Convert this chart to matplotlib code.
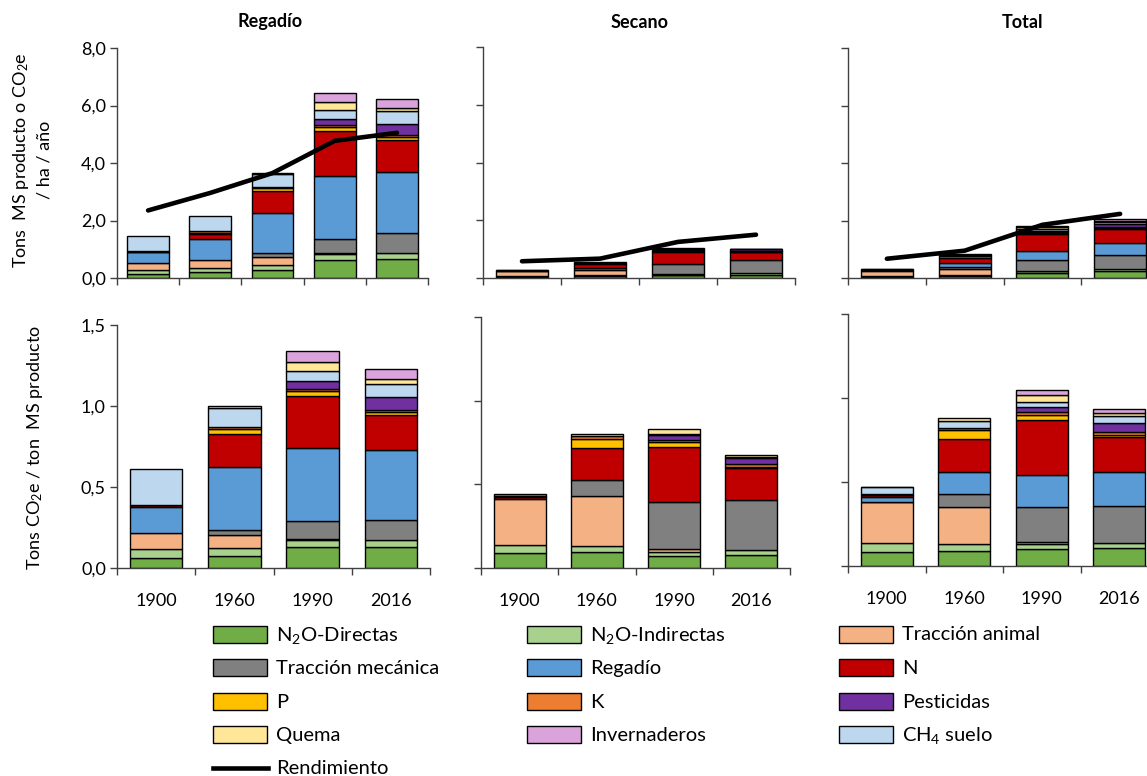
import numpy as np
import matplotlib
matplotlib.use('Agg')
import matplotlib.pyplot as plt
from matplotlib.patches import Rectangle
from matplotlib.lines import Line2D
from matplotlib.ticker import FuncFormatter

plt.rcParams['font.family'] = ['Lato', 'DejaVu Sans']
plt.rcParams['mathtext.default'] = 'regular'

# componentes en orden de apilado (de abajo a arriba)
componentes = ['N$_2$O-Directas', 'N$_2$O-Indirectas', 'Tracción animal', 'Tracción mecánica',
               'Regadío', 'N', 'P', 'K', 'Pesticidas', 'CH$_4$ suelo', 'Quema', 'Invernaderos']
colores = ['#70AD47', '#A9D18E', '#F4B183', '#808080', '#5B9BD5', '#C00000',
           '#FFC000', '#ED7D31', '#7030A0', '#BDD7EE', '#FFE699', '#DBA3DB']

anios = ['1900', '1960', '1990', '2016']
anios_reg_sup = ['1900', '', '1960', '1990', '2016']  # la fila superior de regadio tiene una barra mas

# fila superior: Tons MS producto o CO2e / ha / año  (cada fila = un año, columnas = componentes)
reg_sup = [
    [0.14, 0.13, 0.25, 0.00, 0.38, 0.02, 0.005, 0.005, 0.00, 0.53, 0.00, 0.00],
    [0.20, 0.14, 0.30, 0.00, 0.71, 0.18, 0.02, 0.10, 0.00, 0.49, 0.00, 0.00],
    [0.28, 0.16, 0.30, 0.12, 1.41, 0.74, 0.13, 0.04, 0.00, 0.43, 0.05, 0.00],
    [0.64, 0.20, 0.02, 0.50, 2.20, 1.55, 0.13, 0.07, 0.22, 0.32, 0.27, 0.31],
    [0.66, 0.21, 0.00, 0.68, 2.15, 1.10, 0.09, 0.07, 0.38, 0.46, 0.13, 0.31],
]
sec_sup = [
    [0.05, 0.03, 0.16, 0.00, 0.00, 0.01, 0.01, 0.03, 0.00, 0.00, 0.00, 0.00],
    [0.06, 0.03, 0.20, 0.06, 0.00, 0.13, 0.04, 0.01, 0.003, 0.00, 0.02, 0.00],
    [0.09, 0.03, 0.02, 0.35, 0.00, 0.41, 0.04, 0.02, 0.04, 0.005, 0.03, 0.00],
    [0.12, 0.04, 0.00, 0.45, 0.00, 0.29, 0.01, 0.03, 0.05, 0.01, 0.01, 0.00],
]
tot_sup = [
    [0.04, 0.03, 0.19, 0.00, 0.01, 0.01, 0.003, 0.003, 0.00, 0.03, 0.003, 0.00],
    [0.08, 0.04, 0.20, 0.07, 0.13, 0.18, 0.05, 0.01, 0.00, 0.04, 0.02, 0.00],
    [0.18, 0.05, 0.02, 0.37, 0.33, 0.57, 0.05, 0.03, 0.05, 0.05, 0.07, 0.05],
    [0.23, 0.08, 0.00, 0.49, 0.43, 0.46, 0.04, 0.04, 0.11, 0.08, 0.04, 0.05],
]
rend_reg = [2.35, 2.96, 3.65, 4.77, 5.05]
rend_sec = [0.58, 0.67, 1.25, 1.50]
rend_tot = [0.67, 0.95, 1.85, 2.23]

# fila inferior: Tons CO2e / ton MS producto
reg_inf = [
    [0.062, 0.055, 0.099, 0.000, 0.160, 0.010, 0.002, 0.002, 0.000, 0.222, 0.000, 0.000],
    [0.076, 0.045, 0.083, 0.033, 0.386, 0.202, 0.035, 0.010, 0.000, 0.118, 0.014, 0.000],
    [0.130, 0.045, 0.004, 0.109, 0.453, 0.319, 0.030, 0.015, 0.047, 0.066, 0.054, 0.065],
    [0.130, 0.041, 0.000, 0.127, 0.432, 0.212, 0.019, 0.016, 0.076, 0.085, 0.029, 0.061],
]
sec_inf = [
    [0.088, 0.051, 0.275, 0.000, 0.000, 0.010, 0.008, 0.010, 0.000, 0.000, 0.000, 0.000],
    [0.094, 0.039, 0.299, 0.096, 0.000, 0.190, 0.055, 0.014, 0.000, 0.000, 0.016, 0.000],
    [0.074, 0.020, 0.020, 0.278, 0.000, 0.331, 0.028, 0.016, 0.030, 0.005, 0.029, 0.000],
    [0.080, 0.026, 0.000, 0.298, 0.000, 0.194, 0.008, 0.018, 0.033, 0.008, 0.008, 0.000],
]
tot_inf = [
    [0.082, 0.053, 0.243, 0.004, 0.028, 0.012, 0.003, 0.003, 0.000, 0.041, 0.004, 0.000],
    [0.089, 0.042, 0.223, 0.075, 0.132, 0.196, 0.052, 0.012, 0.002, 0.040, 0.016, 0.000],
    [0.101, 0.028, 0.012, 0.209, 0.191, 0.328, 0.030, 0.016, 0.031, 0.030, 0.042, 0.028],
    [0.105, 0.034, 0.000, 0.221, 0.199, 0.206, 0.017, 0.017, 0.052, 0.040, 0.020, 0.025],
]

W, H = 1147, 776
fig = plt.figure(figsize=(W / 100, H / 100), dpi=100)


def rect(x0, y0, x1, y1):
    return [x0 / W, 1 - y1 / H, (x1 - x0) / W, (y1 - y0) / H]


coma = FuncFormatter(lambda v, p: f"{v:.1f}".replace('.', ','))


def panel(pos, datos, cats, ymax, yticks, rend=None, ylabels=True, xlabels=True):
    ax = fig.add_axes(pos)
    datos = np.array(datos)
    x = np.arange(len(datos))
    base = np.zeros(len(datos))
    for j in range(datos.shape[1]):
        v = datos[:, j]
        ax.bar(x[v > 0], v[v > 0], 0.67, bottom=base[v > 0], color=colores[j],
               edgecolor='black', linewidth=1.0, zorder=2)
        base += v
    if rend is not None:
        ax.plot(x, rend, color='black', lw=3.3, solid_capstyle='round', zorder=5)
    ax.set_xlim(-0.5, len(datos) - 0.5)
    ax.set_ylim(0, ymax)
    ax.set_yticks(yticks)
    ax.yaxis.set_major_formatter(coma)
    if not ylabels:
        ax.set_yticklabels([])
    ax.set_xticks(np.arange(len(datos) + 1) - 0.5)
    ax.set_xticklabels([])
    ax.set_xticks(x, minor=True)
    ax.set_xticklabels(cats if xlabels else [], minor=True)
    ax.tick_params(axis='x', which='major', length=5, width=1, color='#404040')
    ax.tick_params(axis='x', which='minor', length=0, pad=18, labelsize=13)
    ax.tick_params(axis='y', length=5, width=1, color='#404040', pad=3, labelsize=13)
    for s in ['top', 'right']:
        ax.spines[s].set_visible(False)
    for s in ['left', 'bottom']:
        ax.spines[s].set_color('#404040')
        ax.spines[s].set_linewidth(1.0)
    return ax


panel(rect(117, 48, 428, 278), reg_sup, anios_reg_sup, 8, [0, 2, 4, 6, 8], rend_reg, xlabels=False)
panel(rect(483, 47, 795, 278), sec_sup, anios, 8, [0, 2, 4, 6, 8], rend_sec, ylabels=False, xlabels=False)
panel(rect(848, 48, 1159, 278), tot_sup, anios, 8, [0, 2, 4, 6, 8], rend_tot, ylabels=False, xlabels=False)

panel(rect(117, 325, 430, 568), reg_inf, anios, 1.5, [0, 0.5, 1.0, 1.5])
panel(rect(481, 317, 790, 568), sec_inf, anios, 1.5, [0, 0.5, 1.0, 1.5], ylabels=False)
panel(rect(848, 314, 1158, 566), tot_inf, anios, 1.5, [0, 0.5, 1.0, 1.5], ylabels=False)

# titulos
for txt, xp in [('Regadío', 270), ('Secano', 640), ('Total', 1022)]:
    fig.text(xp / W, 1 - 22 / H, txt, ha='center', va='center', fontsize=13, fontweight='bold')

fig.text(32 / W, 1 - 160 / H, 'Tons  MS producto o CO$_2$e\n/ ha / año', rotation=90,
         ha='center', va='center', multialignment='center', fontsize=13, linespacing=1.4)
fig.text(35 / W, 1 - 448 / H, 'Tons CO$_2$e / ton  MS producto', rotation=90,
         ha='center', va='center', fontsize=13)

# leyenda: tres columnas fijas, filas cada ~33.5 px
leyenda = [
    ['N$_2$O-Directas', 'N$_2$O-Indirectas', 'Tracción animal'],
    ['Tracción mecánica', 'Regadío', 'N'],
    ['P', 'K', 'Pesticidas'],
    ['Quema', 'Invernaderos', 'CH$_4$ suelo'],
    ['Rendimiento'],
]
col_x = [213, 527, 839]
color_de = dict(zip(componentes, colores))
for fila, items in enumerate(leyenda):
    yc = 634 + fila * 33.5
    for c, item in enumerate(items):
        xp = col_x[c]
        if item == 'Rendimiento':
            fig.add_artist(Line2D([xp / W, (xp + 55) / W], [1 - yc / H, 1 - yc / H],
                                  color='black', lw=3.3, transform=fig.transFigure))
        else:
            fig.add_artist(Rectangle((xp / W, 1 - (yc + 8.5) / H), 54 / W, 17 / H,
                                     facecolor=color_de[item], edgecolor='black', lw=1.0,
                                     transform=fig.transFigure))
        fig.text((xp + 63) / W, 1 - (yc + 6.5) / H, item, ha='left', va='baseline', fontsize=14.5)

fig.savefig('out.png', dpi=100)
